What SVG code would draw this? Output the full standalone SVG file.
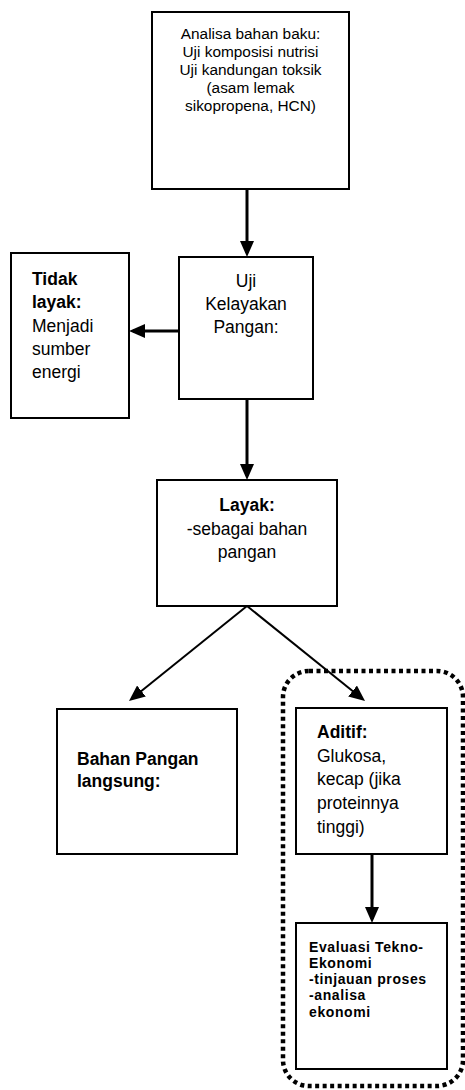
<svg xmlns="http://www.w3.org/2000/svg" width="465" height="1090" viewBox="0 0 465 1090">
<style>
.box{fill:#fff;stroke:#000;stroke-width:2}
.t{font-family:"Liberation Sans",Arial,sans-serif;fill:#000}
.c{text-anchor:middle}
.b{font-weight:bold}
.con{stroke:#000;fill:none}
</style>
<defs>
<marker id="ah" markerUnits="userSpaceOnUse" viewBox="0 0 16 14" refX="12" refY="7" markerWidth="16" markerHeight="14" orient="auto">
<path d="M0,0 L16,7 L0,14 z" fill="#000"/>
</marker>
</defs>
<rect width="465" height="1090" fill="#fff"/>
<g id="group-boundary">
<rect x="283" y="671" width="180" height="415" rx="26" fill="none" stroke="#000" stroke-width="4.5" stroke-dasharray="4 3.5"/>
</g>
<g id="connectors">
<line class="con" x1="247" y1="189" x2="247" y2="253" stroke-width="3" marker-end="url(#ah)"/>
<line class="con" x1="247" y1="399" x2="247" y2="476" stroke-width="3" marker-end="url(#ah)"/>
<line class="con" x1="179" y1="331" x2="133" y2="331" stroke-width="3" marker-end="url(#ah)"/>
<line class="con" x1="247" y1="606" x2="132.1" y2="698.5" stroke-width="2" marker-end="url(#ah)"/>
<line class="con" x1="247" y1="606" x2="361.9" y2="698.5" stroke-width="2" marker-end="url(#ah)"/>
<line class="con" x1="372" y1="854" x2="372" y2="919" stroke-width="3" marker-end="url(#ah)"/>
</g>
<g id="node-analisa">
<rect class="box" x="152" y="12" width="197" height="177"/>
<text class="t c" font-size="15.4"><tspan x="250.5" y="39">Analisa bahan baku:</tspan><tspan x="250.5" y="57">Uji komposisi nutrisi</tspan><tspan x="250.5" y="75">Uji kandungan toksik</tspan><tspan x="250.5" y="93">(asam lemak</tspan><tspan x="250.5" y="111">sikopropena, HCN)</tspan></text>
</g>
<g id="node-uji">
<rect class="box" x="179" y="257" width="134" height="142"/>
<text class="t c" font-size="17.5"><tspan x="246" y="287">Uji</tspan><tspan x="246" y="310">Kelayakan</tspan><tspan x="246" y="333">Pangan:</tspan></text>
</g>
<g id="node-tidak">
<rect class="box" x="11" y="253" width="118" height="165"/>
<text class="t" font-size="17.5"><tspan class="b" x="32" y="285">Tidak</tspan><tspan class="b" x="32" y="308">layak:</tspan><tspan x="32" y="332">Menjadi</tspan><tspan x="32" y="355">sumber</tspan><tspan x="32" y="378">energi</tspan></text>
</g>
<g id="node-layak">
<rect class="box" x="157" y="480" width="180" height="126"/>
<text class="t c" font-size="17.5"><tspan class="b" x="247" y="511">Layak:</tspan><tspan x="247" y="535">-sebagai bahan</tspan><tspan x="247" y="558">pangan</tspan></text>
</g>
<g id="node-bahan">
<rect class="box" x="57" y="709" width="180" height="145"/>
<text class="t b" font-size="17.5"><tspan x="77" y="765">Bahan Pangan</tspan><tspan x="77" y="787">langsung:</tspan></text>
</g>
<g id="node-aditif">
<rect class="box" x="296" y="708" width="151" height="146"/>
<text class="t" font-size="17.5"><tspan class="b" x="317" y="738">Aditif:</tspan><tspan x="317" y="762">Glukosa,</tspan><tspan x="317" y="785">kecap (jika</tspan><tspan x="317" y="809">proteinnya</tspan><tspan x="317" y="833">tinggi)</tspan></text>
</g>
<g id="node-evaluasi">
<rect class="box" x="296" y="923" width="151" height="146"/>
<text class="t b" font-size="14" letter-spacing="0.6"><tspan x="309" y="952">Evaluasi Tekno-</tspan><tspan x="309" y="968">Ekonomi</tspan><tspan x="309" y="984">-tinjauan proses</tspan><tspan x="309" y="1000">-analisa</tspan><tspan x="309" y="1017">ekonomi</tspan></text>
</g>
</svg>
